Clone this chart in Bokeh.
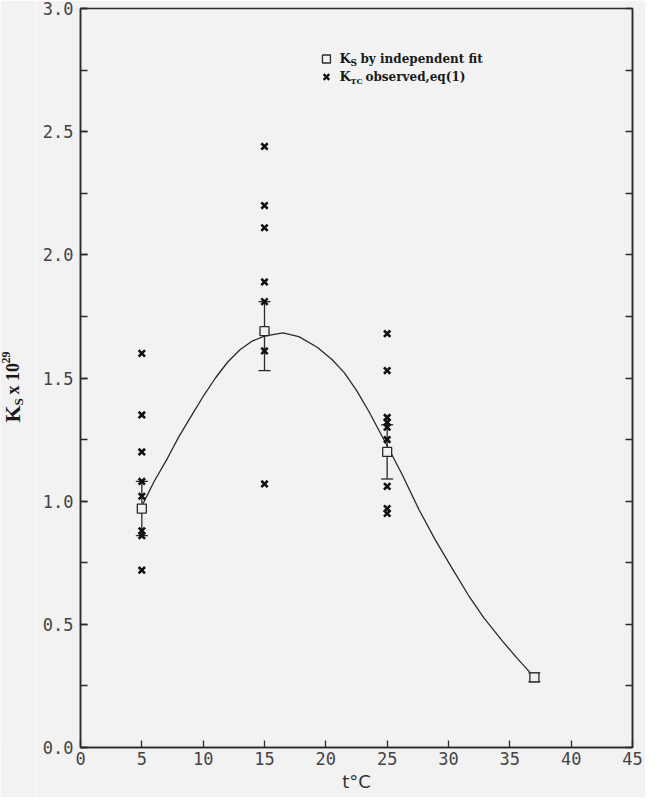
import numpy as np
from bokeh.plotting import figure
from bokeh.layouts import row
from bokeh.models import (ColumnDataSource, Whisker, TeeHead, LinearAxis, FixedTicker,
                          Range1d, SingleIntervalTicker, Label, NumeralTickFormatter)
from bokeh.embed import file_html
from bokeh.resources import INLINE

# ---- data ----
obs_t = [5, 5, 5, 5, 5, 5, 5, 5,
         15, 15, 15, 15, 15, 15, 15,
         25, 25, 25, 25, 25, 25, 25, 25, 25]
obs_k = [1.60, 1.35, 1.20, 1.08, 1.02, 0.88, 0.86, 0.72,
         2.44, 2.20, 2.11, 1.89, 1.81, 1.61, 1.07,
         1.68, 1.53, 1.34, 1.32, 1.30, 1.25, 1.06, 0.97, 0.95]

fit_t = [5, 15, 25, 37]
fit_k = [0.97, 1.69, 1.20, 0.285]
fit_lo = [0.86, 1.53, 1.09, 0.267]
fit_hi = [1.08, 1.81, 1.31, 0.303]

curve_t = [5.1, 6.0, 7.1, 8.0, 9.0, 10.0, 11.0, 12.0, 13.0, 14.0, 15.0, 16.5,
           17.8, 19.3, 20.5, 21.5, 22.5, 23.5, 24.3, 25.0, 26.2, 27.6, 28.9,
           30.2, 31.6, 32.9, 34.3, 35.6, 36.7, 37.0]
curve_k = [0.99, 1.08, 1.175, 1.26, 1.343, 1.425, 1.50, 1.565, 1.615, 1.650,
           1.670, 1.683, 1.668, 1.625, 1.575, 1.522, 1.45, 1.365, 1.29, 1.225,
           1.11, 0.965, 0.845, 0.735, 0.62, 0.525, 0.438, 0.362, 0.302, 0.287]

x_tick_step = 5
y_tick_step = 0.5
y_minor_step = 0.25

BG = "#f2f2f2"
INK = "#2a2a2a"
TICK_FONT = "DejaVu Sans Mono"
LAB_FONT = "DejaVu Sans"
SERIF = "DejaVu Serif"
YSERIF = "Liberation Serif"

H = 797
LABEL_W = 35

p = figure(width=645 - LABEL_W, height=H, output_backend="svg", toolbar_location=None,
           x_range=Range1d(0, 45), y_range=Range1d(0, 3.0),
           min_border_left=45, min_border_right=13, min_border_top=8,
           min_border_bottom=50)
p.background_fill_color = BG
p.border_fill_color = BG
p.grid.visible = False
p.outline_line_color = INK
p.outline_line_width = 1.5

# axes styling
for ax in (p.xaxis[0], p.yaxis[0]):
    ax.axis_line_color = INK
    ax.axis_line_width = 1.5
    ax.major_tick_line_color = INK
    ax.minor_tick_line_color = INK
    ax.major_tick_line_width = 1.3
    ax.minor_tick_line_width = 1.3
    ax.major_tick_out = 0
    ax.major_tick_in = 7
    ax.minor_tick_out = 0
    ax.major_label_text_font = TICK_FONT
    ax.major_label_text_font_size = "17px"
    ax.major_label_text_color = "#444444"

p.xaxis.ticker = SingleIntervalTicker(interval=x_tick_step, num_minor_ticks=0)
p.xaxis.minor_tick_in = 0
p.xaxis.major_label_standoff = 4
p.xaxis.axis_label = "t°C"
p.xaxis.axis_label_text_font = LAB_FONT
p.xaxis.axis_label_text_font_size = "18px"
p.xaxis.axis_label_text_font_style = "normal"
p.xaxis.axis_label_text_color = "#333333"
p.xaxis.axis_label_standoff = 3

p.yaxis.ticker = SingleIntervalTicker(interval=y_tick_step, num_minor_ticks=2)
p.yaxis.minor_tick_in = 7
p.yaxis.major_label_standoff = 7
p.yaxis.formatter = NumeralTickFormatter(format="0.0")

# right axis: inward ticks only, no labels
right_ticks = list(np.arange(0, 3.0 + 1e-9, y_minor_step))
right = LinearAxis(ticker=FixedTicker(ticks=[], minor_ticks=right_ticks))
right.axis_line_color = INK
right.axis_line_width = 1.5
right.minor_tick_line_color = INK
right.minor_tick_line_width = 1.3
right.minor_tick_out = 0
right.minor_tick_in = 7
right.major_tick_out = 0
right.major_tick_in = 0
p.add_layout(right, "right")

# fitted curve
p.line(curve_t, curve_k, line_color=INK, line_width=1.3)

# error bars
src = ColumnDataSource(dict(t=fit_t, k=fit_k, lo=fit_lo, hi=fit_hi))
wh = Whisker(source=src, base="t", lower="lo", upper="hi",
             line_color=INK, line_width=1.3,
             upper_head=TeeHead(size=12, line_color=INK, line_width=1.3),
             lower_head=TeeHead(size=12, line_color=INK, line_width=1.3))
p.add_layout(wh)

# observed points
p.scatter(obs_t, obs_k, marker="x", size=9, line_color="#111111", line_width=2.6)
# independent fit
p.scatter("t", "k", source=src, marker="square", size=9, fill_color=BG,
          line_color=INK, line_width=1.3)

# legend (manual, to allow subscripts)
leg_x, leg_y1, leg_y2 = 20.05, 2.795, 2.722
p.scatter([leg_x], [leg_y1], marker="square", size=8, fill_color=BG,
          line_color=INK, line_width=1.3)
p.scatter([leg_x], [leg_y2], marker="x", size=8, line_color="#111111", line_width=2.4)


def lab(fig, x, y, text, size, dx=0, dy=0, style="bold", angle=0.0, font=SERIF,
        units="data"):
    fig.add_layout(Label(x=x, y=y, text=text, x_offset=dx, y_offset=dy,
                         x_units=units, y_units=units,
                         text_font=font, text_font_size=size, text_font_style=style,
                         text_color="#1a1a1a", text_baseline="middle",
                         text_align="left", angle=angle))


lab(p, leg_x, leg_y1, "K", "13px", dx=13)
lab(p, leg_x, leg_y1, "S", "9px", dx=24, dy=-4)
lab(p, leg_x, leg_y1, "by independent fit", "12px", dx=34)
lab(p, leg_x, leg_y2, "K", "13px", dx=13)
lab(p, leg_x, leg_y2, "TC", "8px", dx=24, dy=-4)
lab(p, leg_x, leg_y2, "observed,eq(1)", "12px", dx=39)

# y-axis label in a narrow side panel (rotated, with sub/superscripts)
side = figure(width=LABEL_W, height=H, output_backend="svg", toolbar_location=None,
              x_range=Range1d(0, 1), y_range=Range1d(0, 1),
              x_axis_type=None, y_axis_type=None, min_border=0)
side.background_fill_color = BG
side.border_fill_color = BG
side.outline_line_color = None
side.grid.visible = False

ylx, yly = 12, 325
A = np.pi / 2
lab(side, ylx, yly, "K", "22px", angle=A, units="screen", font=YSERIF)
lab(side, ylx, yly, "S", "13px", dx=6, dy=17, angle=A, units="screen", font=YSERIF)
lab(side, ylx, yly, "x 10", "18px", dy=28, angle=A, units="screen", font=YSERIF)
lab(side, ylx, yly, "29", "12px", dx=-7, dy=59, angle=A, units="screen", font=YSERIF)

layout = row(side, p, spacing=0)
open("out.html", "w").write(file_html(layout, INLINE))
